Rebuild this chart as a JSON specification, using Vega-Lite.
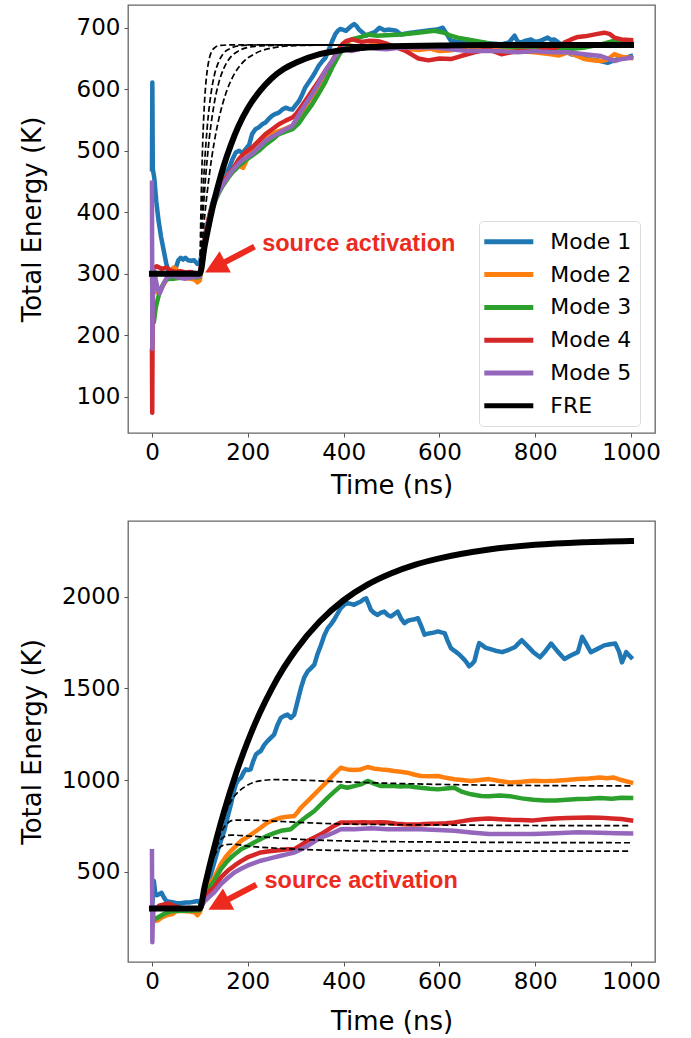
{
"$schema": "https://vega.github.io/schema/vega-lite/v6.json",
"padding": {"left": 18, "top": 4, "right": 5, "bottom": 0},
"spacing": 20,
"config": {
 "font": "DejaVu Sans",
 "view": {"stroke": "#666666", "strokeWidth": 1.3},
 "axis": {"grid": false, "domain": false, "tickSize": 4, "tickColor": "#555555", "tickWidth": 1, "labelFontSize": 23, "labelColor": "#000000", "labelPadding": 4, "labelFlush": false, "labelOverlap": false, "titleFontSize": 26, "titleFontWeight": "normal", "titleColor": "#000000", "labelFont": "DejaVu Sans", "titleFont": "DejaVu Sans", "format": "d"}
},
"datasets": {
"t_modes": [
{"s":"Mode 1","t":0,"v":470},{"s":"Mode 1","t":0.8,"v":611},{"s":"Mode 1","t":1.8,"v":470},{"s":"Mode 1","t":5,"v":455},{"s":"Mode 1","t":9,"v":418},{"s":"Mode 1","t":14,"v":385},{"s":"Mode 1","t":19,"v":360},{"s":"Mode 1","t":24,"v":340},{"s":"Mode 1","t":30,"v":316},{"s":"Mode 1","t":35,"v":303},{"s":"Mode 1","t":40,"v":300},{"s":"Mode 1","t":45,"v":301},{"s":"Mode 1","t":50,"v":310},{"s":"Mode 1","t":55,"v":322},{"s":"Mode 1","t":60,"v":326},{"s":"Mode 1","t":65,"v":323},{"s":"Mode 1","t":70,"v":326},{"s":"Mode 1","t":75,"v":322},{"s":"Mode 1","t":82,"v":321},{"s":"Mode 1","t":88,"v":322},{"s":"Mode 1","t":95,"v":316},{"s":"Mode 1","t":100,"v":318},{"s":"Mode 1","t":106,"v":340},{"s":"Mode 1","t":112,"v":368},{"s":"Mode 1","t":120,"v":395},{"s":"Mode 1","t":126,"v":415},{"s":"Mode 1","t":133,"v":430},{"s":"Mode 1","t":140,"v":442},{"s":"Mode 1","t":147,"v":452},{"s":"Mode 1","t":154,"v":462},{"s":"Mode 1","t":161,"v":472},{"s":"Mode 1","t":168,"v":486},{"s":"Mode 1","t":175,"v":497},{"s":"Mode 1","t":182,"v":500},{"s":"Mode 1","t":189,"v":496},{"s":"Mode 1","t":196,"v":503},{"s":"Mode 1","t":203,"v":510},{"s":"Mode 1","t":209,"v":527},{"s":"Mode 1","t":216,"v":535},{"s":"Mode 1","t":223,"v":538},{"s":"Mode 1","t":230,"v":543},{"s":"Mode 1","t":237,"v":546},{"s":"Mode 1","t":244,"v":552},{"s":"Mode 1","t":251,"v":557},{"s":"Mode 1","t":258,"v":560},{"s":"Mode 1","t":265,"v":562},{"s":"Mode 1","t":272,"v":567},{"s":"Mode 1","t":279,"v":570},{"s":"Mode 1","t":286,"v":568},{"s":"Mode 1","t":293,"v":567},{"s":"Mode 1","t":300,"v":574},{"s":"Mode 1","t":307,"v":581},{"s":"Mode 1","t":314,"v":592},{"s":"Mode 1","t":320,"v":603},{"s":"Mode 1","t":327,"v":611},{"s":"Mode 1","t":334,"v":619},{"s":"Mode 1","t":341,"v":628},{"s":"Mode 1","t":348,"v":638},{"s":"Mode 1","t":355,"v":645},{"s":"Mode 1","t":362,"v":651},{"s":"Mode 1","t":369,"v":664},{"s":"Mode 1","t":376,"v":678},{"s":"Mode 1","t":383,"v":690},{"s":"Mode 1","t":388,"v":695},{"s":"Mode 1","t":393,"v":698},{"s":"Mode 1","t":398,"v":697},{"s":"Mode 1","t":405,"v":695},{"s":"Mode 1","t":412,"v":700},{"s":"Mode 1","t":418,"v":704},{"s":"Mode 1","t":422,"v":706},{"s":"Mode 1","t":427,"v":703},{"s":"Mode 1","t":432,"v":697},{"s":"Mode 1","t":440,"v":692},{"s":"Mode 1","t":447,"v":687},{"s":"Mode 1","t":455,"v":690},{"s":"Mode 1","t":465,"v":693},{"s":"Mode 1","t":475,"v":700},{"s":"Mode 1","t":485,"v":696},{"s":"Mode 1","t":496,"v":697},{"s":"Mode 1","t":510,"v":695},{"s":"Mode 1","t":520,"v":689},{"s":"Mode 1","t":540,"v":692},{"s":"Mode 1","t":560,"v":694},{"s":"Mode 1","t":580,"v":696},{"s":"Mode 1","t":595,"v":697},{"s":"Mode 1","t":607,"v":700},{"s":"Mode 1","t":615,"v":690},{"s":"Mode 1","t":624,"v":679},{"s":"Mode 1","t":640,"v":677},{"s":"Mode 1","t":659,"v":676},{"s":"Mode 1","t":680,"v":676},{"s":"Mode 1","t":700,"v":675},{"s":"Mode 1","t":729,"v":673},{"s":"Mode 1","t":745,"v":676},{"s":"Mode 1","t":757,"v":687},{"s":"Mode 1","t":763,"v":678},{"s":"Mode 1","t":770,"v":676},{"s":"Mode 1","t":780,"v":679},{"s":"Mode 1","t":791,"v":681},{"s":"Mode 1","t":800,"v":677},{"s":"Mode 1","t":812,"v":679},{"s":"Mode 1","t":826,"v":684},{"s":"Mode 1","t":833,"v":680},{"s":"Mode 1","t":840,"v":681},{"s":"Mode 1","t":850,"v":675},{"s":"Mode 1","t":861,"v":663},{"s":"Mode 1","t":875,"v":657},{"s":"Mode 1","t":890,"v":655},{"s":"Mode 1","t":910,"v":649},{"s":"Mode 1","t":930,"v":647},{"s":"Mode 1","t":951,"v":643},{"s":"Mode 1","t":962,"v":646},{"s":"Mode 1","t":972,"v":649},{"s":"Mode 1","t":985,"v":650},{"s":"Mode 1","t":1000,"v":654},
{"s":"Mode 2","t":0,"v":300},{"s":"Mode 2","t":2,"v":285},{"s":"Mode 2","t":5,"v":275},{"s":"Mode 2","t":10,"v":270},{"s":"Mode 2","t":15,"v":272},{"s":"Mode 2","t":20,"v":278},{"s":"Mode 2","t":25,"v":283},{"s":"Mode 2","t":30,"v":290},{"s":"Mode 2","t":35,"v":300},{"s":"Mode 2","t":40,"v":305},{"s":"Mode 2","t":45,"v":310},{"s":"Mode 2","t":50,"v":308},{"s":"Mode 2","t":55,"v":302},{"s":"Mode 2","t":60,"v":296},{"s":"Mode 2","t":70,"v":293},{"s":"Mode 2","t":80,"v":292},{"s":"Mode 2","t":90,"v":290},{"s":"Mode 2","t":95,"v":286},{"s":"Mode 2","t":100,"v":289},{"s":"Mode 2","t":106,"v":330},{"s":"Mode 2","t":112,"v":365},{"s":"Mode 2","t":120,"v":395},{"s":"Mode 2","t":126,"v":410},{"s":"Mode 2","t":133,"v":425},{"s":"Mode 2","t":140,"v":437},{"s":"Mode 2","t":147,"v":448},{"s":"Mode 2","t":154,"v":456},{"s":"Mode 2","t":161,"v":463},{"s":"Mode 2","t":168,"v":468},{"s":"Mode 2","t":175,"v":472},{"s":"Mode 2","t":182,"v":476},{"s":"Mode 2","t":190,"v":472},{"s":"Mode 2","t":196,"v":482},{"s":"Mode 2","t":203,"v":495},{"s":"Mode 2","t":209,"v":503},{"s":"Mode 2","t":216,"v":510},{"s":"Mode 2","t":223,"v":514},{"s":"Mode 2","t":230,"v":518},{"s":"Mode 2","t":237,"v":521},{"s":"Mode 2","t":244,"v":524},{"s":"Mode 2","t":251,"v":527},{"s":"Mode 2","t":258,"v":530},{"s":"Mode 2","t":265,"v":532},{"s":"Mode 2","t":279,"v":536},{"s":"Mode 2","t":293,"v":541},{"s":"Mode 2","t":300,"v":548},{"s":"Mode 2","t":307,"v":554},{"s":"Mode 2","t":320,"v":570},{"s":"Mode 2","t":334,"v":586},{"s":"Mode 2","t":348,"v":603},{"s":"Mode 2","t":362,"v":619},{"s":"Mode 2","t":376,"v":640},{"s":"Mode 2","t":390,"v":657},{"s":"Mode 2","t":400,"v":668},{"s":"Mode 2","t":410,"v":672},{"s":"Mode 2","t":420,"v":670},{"s":"Mode 2","t":440,"v":668},{"s":"Mode 2","t":460,"v":672},{"s":"Mode 2","t":480,"v":674},{"s":"Mode 2","t":500,"v":670},{"s":"Mode 2","t":520,"v":668},{"s":"Mode 2","t":540,"v":665},{"s":"Mode 2","t":560,"v":664},{"s":"Mode 2","t":580,"v":666},{"s":"Mode 2","t":600,"v":662},{"s":"Mode 2","t":620,"v":663},{"s":"Mode 2","t":640,"v":665},{"s":"Mode 2","t":659,"v":670},{"s":"Mode 2","t":680,"v":668},{"s":"Mode 2","t":700,"v":666},{"s":"Mode 2","t":729,"v":665},{"s":"Mode 2","t":760,"v":662},{"s":"Mode 2","t":798,"v":660},{"s":"Mode 2","t":833,"v":657},{"s":"Mode 2","t":850,"v":655},{"s":"Mode 2","t":868,"v":660},{"s":"Mode 2","t":885,"v":655},{"s":"Mode 2","t":903,"v":649},{"s":"Mode 2","t":920,"v":647},{"s":"Mode 2","t":937,"v":646},{"s":"Mode 2","t":950,"v":648},{"s":"Mode 2","t":965,"v":657},{"s":"Mode 2","t":980,"v":653},{"s":"Mode 2","t":1000,"v":651},
{"s":"Mode 3","t":0,"v":300},{"s":"Mode 3","t":2,"v":250},{"s":"Mode 3","t":4,"v":221},{"s":"Mode 3","t":8,"v":245},{"s":"Mode 3","t":12,"v":258},{"s":"Mode 3","t":15,"v":267},{"s":"Mode 3","t":20,"v":278},{"s":"Mode 3","t":25,"v":285},{"s":"Mode 3","t":30,"v":290},{"s":"Mode 3","t":36,"v":292},{"s":"Mode 3","t":45,"v":292},{"s":"Mode 3","t":55,"v":293},{"s":"Mode 3","t":65,"v":294},{"s":"Mode 3","t":75,"v":294},{"s":"Mode 3","t":85,"v":295},{"s":"Mode 3","t":95,"v":294},{"s":"Mode 3","t":100,"v":295},{"s":"Mode 3","t":106,"v":325},{"s":"Mode 3","t":112,"v":360},{"s":"Mode 3","t":120,"v":388},{"s":"Mode 3","t":126,"v":405},{"s":"Mode 3","t":133,"v":420},{"s":"Mode 3","t":140,"v":432},{"s":"Mode 3","t":147,"v":442},{"s":"Mode 3","t":154,"v":450},{"s":"Mode 3","t":161,"v":458},{"s":"Mode 3","t":168,"v":465},{"s":"Mode 3","t":175,"v":470},{"s":"Mode 3","t":182,"v":476},{"s":"Mode 3","t":189,"v":480},{"s":"Mode 3","t":196,"v":485},{"s":"Mode 3","t":209,"v":492},{"s":"Mode 3","t":223,"v":500},{"s":"Mode 3","t":237,"v":510},{"s":"Mode 3","t":251,"v":518},{"s":"Mode 3","t":265,"v":527},{"s":"Mode 3","t":279,"v":531},{"s":"Mode 3","t":293,"v":535},{"s":"Mode 3","t":307,"v":545},{"s":"Mode 3","t":320,"v":560},{"s":"Mode 3","t":334,"v":575},{"s":"Mode 3","t":348,"v":593},{"s":"Mode 3","t":362,"v":612},{"s":"Mode 3","t":376,"v":635},{"s":"Mode 3","t":390,"v":655},{"s":"Mode 3","t":400,"v":668},{"s":"Mode 3","t":408,"v":678},{"s":"Mode 3","t":420,"v":682},{"s":"Mode 3","t":437,"v":685},{"s":"Mode 3","t":451,"v":689},{"s":"Mode 3","t":470,"v":687},{"s":"Mode 3","t":490,"v":688},{"s":"Mode 3","t":520,"v":689},{"s":"Mode 3","t":555,"v":692},{"s":"Mode 3","t":590,"v":695},{"s":"Mode 3","t":610,"v":692},{"s":"Mode 3","t":624,"v":687},{"s":"Mode 3","t":638,"v":684},{"s":"Mode 3","t":659,"v":681},{"s":"Mode 3","t":694,"v":676},{"s":"Mode 3","t":729,"v":670},{"s":"Mode 3","t":763,"v":668},{"s":"Mode 3","t":798,"v":665},{"s":"Mode 3","t":833,"v":662},{"s":"Mode 3","t":868,"v":665},{"s":"Mode 3","t":903,"v":668},{"s":"Mode 3","t":937,"v":673},{"s":"Mode 3","t":965,"v":679},{"s":"Mode 3","t":1000,"v":676},
{"s":"Mode 4","t":0,"v":175},{"s":"Mode 4","t":0.6,"v":74},{"s":"Mode 4","t":1.5,"v":240},{"s":"Mode 4","t":3,"v":310},{"s":"Mode 4","t":5,"v":310},{"s":"Mode 4","t":10,"v":312},{"s":"Mode 4","t":15,"v":310},{"s":"Mode 4","t":20,"v":308},{"s":"Mode 4","t":30,"v":310},{"s":"Mode 4","t":40,"v":305},{"s":"Mode 4","t":50,"v":303},{"s":"Mode 4","t":60,"v":304},{"s":"Mode 4","t":70,"v":302},{"s":"Mode 4","t":80,"v":303},{"s":"Mode 4","t":90,"v":301},{"s":"Mode 4","t":100,"v":300},{"s":"Mode 4","t":106,"v":335},{"s":"Mode 4","t":112,"v":365},{"s":"Mode 4","t":120,"v":393},{"s":"Mode 4","t":126,"v":412},{"s":"Mode 4","t":133,"v":425},{"s":"Mode 4","t":140,"v":436},{"s":"Mode 4","t":147,"v":446},{"s":"Mode 4","t":154,"v":455},{"s":"Mode 4","t":161,"v":462},{"s":"Mode 4","t":168,"v":470},{"s":"Mode 4","t":175,"v":478},{"s":"Mode 4","t":182,"v":487},{"s":"Mode 4","t":189,"v":493},{"s":"Mode 4","t":196,"v":498},{"s":"Mode 4","t":203,"v":502},{"s":"Mode 4","t":209,"v":505},{"s":"Mode 4","t":223,"v":516},{"s":"Mode 4","t":237,"v":527},{"s":"Mode 4","t":251,"v":535},{"s":"Mode 4","t":265,"v":543},{"s":"Mode 4","t":279,"v":549},{"s":"Mode 4","t":293,"v":554},{"s":"Mode 4","t":300,"v":559},{"s":"Mode 4","t":310,"v":570},{"s":"Mode 4","t":320,"v":581},{"s":"Mode 4","t":334,"v":597},{"s":"Mode 4","t":348,"v":613},{"s":"Mode 4","t":362,"v":630},{"s":"Mode 4","t":376,"v":646},{"s":"Mode 4","t":390,"v":665},{"s":"Mode 4","t":397,"v":673},{"s":"Mode 4","t":405,"v":678},{"s":"Mode 4","t":418,"v":681},{"s":"Mode 4","t":437,"v":677},{"s":"Mode 4","t":455,"v":679},{"s":"Mode 4","t":472,"v":678},{"s":"Mode 4","t":490,"v":674},{"s":"Mode 4","t":510,"v":668},{"s":"Mode 4","t":528,"v":663},{"s":"Mode 4","t":545,"v":655},{"s":"Mode 4","t":556,"v":650},{"s":"Mode 4","t":577,"v":647},{"s":"Mode 4","t":600,"v":650},{"s":"Mode 4","t":624,"v":649},{"s":"Mode 4","t":645,"v":654},{"s":"Mode 4","t":660,"v":657},{"s":"Mode 4","t":673,"v":660},{"s":"Mode 4","t":701,"v":665},{"s":"Mode 4","t":715,"v":661},{"s":"Mode 4","t":729,"v":657},{"s":"Mode 4","t":763,"v":662},{"s":"Mode 4","t":798,"v":662},{"s":"Mode 4","t":833,"v":665},{"s":"Mode 4","t":850,"v":670},{"s":"Mode 4","t":861,"v":676},{"s":"Mode 4","t":875,"v":681},{"s":"Mode 4","t":889,"v":685},{"s":"Mode 4","t":903,"v":686},{"s":"Mode 4","t":917,"v":688},{"s":"Mode 4","t":930,"v":690},{"s":"Mode 4","t":944,"v":692},{"s":"Mode 4","t":955,"v":690},{"s":"Mode 4","t":965,"v":684},{"s":"Mode 4","t":980,"v":681},{"s":"Mode 4","t":1000,"v":680},
{"s":"Mode 5","t":0,"v":448},{"s":"Mode 5","t":0.8,"v":178},{"s":"Mode 5","t":2,"v":300},{"s":"Mode 5","t":5,"v":305},{"s":"Mode 5","t":8,"v":290},{"s":"Mode 5","t":12,"v":275},{"s":"Mode 5","t":16,"v":268},{"s":"Mode 5","t":20,"v":275},{"s":"Mode 5","t":25,"v":285},{"s":"Mode 5","t":30,"v":292},{"s":"Mode 5","t":35,"v":296},{"s":"Mode 5","t":40,"v":297},{"s":"Mode 5","t":50,"v":295},{"s":"Mode 5","t":60,"v":293},{"s":"Mode 5","t":70,"v":292},{"s":"Mode 5","t":80,"v":294},{"s":"Mode 5","t":90,"v":295},{"s":"Mode 5","t":100,"v":296},{"s":"Mode 5","t":106,"v":330},{"s":"Mode 5","t":112,"v":362},{"s":"Mode 5","t":120,"v":392},{"s":"Mode 5","t":126,"v":408},{"s":"Mode 5","t":133,"v":422},{"s":"Mode 5","t":140,"v":434},{"s":"Mode 5","t":147,"v":444},{"s":"Mode 5","t":154,"v":452},{"s":"Mode 5","t":161,"v":460},{"s":"Mode 5","t":168,"v":468},{"s":"Mode 5","t":175,"v":474},{"s":"Mode 5","t":182,"v":480},{"s":"Mode 5","t":189,"v":485},{"s":"Mode 5","t":196,"v":488},{"s":"Mode 5","t":209,"v":495},{"s":"Mode 5","t":223,"v":505},{"s":"Mode 5","t":237,"v":516},{"s":"Mode 5","t":251,"v":523},{"s":"Mode 5","t":265,"v":529},{"s":"Mode 5","t":279,"v":535},{"s":"Mode 5","t":293,"v":540},{"s":"Mode 5","t":307,"v":559},{"s":"Mode 5","t":320,"v":575},{"s":"Mode 5","t":334,"v":591},{"s":"Mode 5","t":348,"v":610},{"s":"Mode 5","t":362,"v":630},{"s":"Mode 5","t":376,"v":646},{"s":"Mode 5","t":390,"v":662},{"s":"Mode 5","t":400,"v":667},{"s":"Mode 5","t":416,"v":662},{"s":"Mode 5","t":430,"v":665},{"s":"Mode 5","t":450,"v":668},{"s":"Mode 5","t":470,"v":666},{"s":"Mode 5","t":490,"v":665},{"s":"Mode 5","t":520,"v":668},{"s":"Mode 5","t":555,"v":668},{"s":"Mode 5","t":590,"v":668},{"s":"Mode 5","t":624,"v":665},{"s":"Mode 5","t":659,"v":662},{"s":"Mode 5","t":694,"v":662},{"s":"Mode 5","t":729,"v":662},{"s":"Mode 5","t":763,"v":660},{"s":"Mode 5","t":798,"v":662},{"s":"Mode 5","t":833,"v":660},{"s":"Mode 5","t":868,"v":660},{"s":"Mode 5","t":903,"v":657},{"s":"Mode 5","t":937,"v":654},{"s":"Mode 5","t":965,"v":646},{"s":"Mode 5","t":980,"v":649},{"s":"Mode 5","t":1000,"v":651}
],
"t_fre": [
{"s":"FRE","t":0,"v":300},{"s":"FRE","t":100,"v":300},{"s":"FRE","t":110,"v":345},{"s":"FRE","t":120,"v":384},{"s":"FRE","t":130,"v":419},{"s":"FRE","t":140,"v":449},{"s":"FRE","t":150,"v":476},{"s":"FRE","t":165,"v":510},{"s":"FRE","t":180,"v":539},{"s":"FRE","t":200,"v":569},{"s":"FRE","t":225,"v":597},{"s":"FRE","t":250,"v":618},{"s":"FRE","t":275,"v":633},{"s":"FRE","t":300,"v":643},{"s":"FRE","t":350,"v":657},{"s":"FRE","t":400,"v":664},{"s":"FRE","t":450,"v":668},{"s":"FRE","t":500,"v":670},{"s":"FRE","t":600,"v":671},{"s":"FRE","t":700,"v":672},{"s":"FRE","t":1000,"v":672}
],
"t_dash": [
{"s":"d1","t":100,"v":300},{"s":"d1","t":102,"v":393},{"s":"d1","t":104,"v":462},{"s":"d1","t":106,"v":514},{"s":"d1","t":108,"v":553},{"s":"d1","t":110,"v":583},{"s":"d1","t":113,"v":614},{"s":"d1","t":116,"v":634},{"s":"d1","t":120,"v":651},{"s":"d1","t":125,"v":662},{"s":"d1","t":130,"v":667},{"s":"d1","t":140,"v":671},{"s":"d1","t":160,"v":672},{"s":"d1","t":1000,"v":672},
{"s":"d2","t":100,"v":300},{"s":"d2","t":103,"v":368},{"s":"d2","t":106,"v":423},{"s":"d2","t":110,"v":481},{"s":"d2","t":115,"v":535},{"s":"d2","t":120,"v":574},{"s":"d2","t":125,"v":602},{"s":"d2","t":130,"v":622},{"s":"d2","t":140,"v":646},{"s":"d2","t":150,"v":659},{"s":"d2","t":165,"v":667},{"s":"d2","t":185,"v":671},{"s":"d2","t":220,"v":672},{"s":"d2","t":1000,"v":672},
{"s":"d3","t":100,"v":300},{"s":"d3","t":105,"v":376},{"s":"d3","t":110,"v":436},{"s":"d3","t":115,"v":484},{"s":"d3","t":120,"v":522},{"s":"d3","t":130,"v":577},{"s":"d3","t":140,"v":612},{"s":"d3","t":150,"v":634},{"s":"d3","t":165,"v":653},{"s":"d3","t":180,"v":662},{"s":"d3","t":200,"v":668},{"s":"d3","t":240,"v":671},{"s":"d3","t":300,"v":672},{"s":"d3","t":1000,"v":672},
{"s":"d4","t":100,"v":300},{"s":"d4","t":105,"v":350},{"s":"d4","t":110,"v":393},{"s":"d4","t":120,"v":462},{"s":"d4","t":130,"v":514},{"s":"d4","t":140,"v":553},{"s":"d4","t":155,"v":595},{"s":"d4","t":170,"v":622},{"s":"d4","t":190,"v":644},{"s":"d4","t":215,"v":658},{"s":"d4","t":250,"v":667},{"s":"d4","t":300,"v":671},{"s":"d4","t":400,"v":672},{"s":"d4","t":1000,"v":672}
],
"b_modes": [
{"s":"Mode 1","t":0,"v":300},{"s":"Mode 1","t":2,"v":360},{"s":"Mode 1","t":4,"v":450},{"s":"Mode 1","t":7,"v":380},{"s":"Mode 1","t":10,"v":372},{"s":"Mode 1","t":15,"v":378},{"s":"Mode 1","t":20,"v":385},{"s":"Mode 1","t":25,"v":360},{"s":"Mode 1","t":30,"v":340},{"s":"Mode 1","t":40,"v":335},{"s":"Mode 1","t":50,"v":330},{"s":"Mode 1","t":60,"v":328},{"s":"Mode 1","t":70,"v":332},{"s":"Mode 1","t":80,"v":333},{"s":"Mode 1","t":90,"v":338},{"s":"Mode 1","t":96,"v":340},{"s":"Mode 1","t":100,"v":330},{"s":"Mode 1","t":109,"v":360},{"s":"Mode 1","t":116,"v":420},{"s":"Mode 1","t":123,"v":487},{"s":"Mode 1","t":130,"v":550},{"s":"Mode 1","t":137,"v":614},{"s":"Mode 1","t":144,"v":670},{"s":"Mode 1","t":151,"v":723},{"s":"Mode 1","t":158,"v":800},{"s":"Mode 1","t":165,"v":868},{"s":"Mode 1","t":170,"v":930},{"s":"Mode 1","t":175,"v":976},{"s":"Mode 1","t":180,"v":1000},{"s":"Mode 1","t":186,"v":1013},{"s":"Mode 1","t":191,"v":1040},{"s":"Mode 1","t":196,"v":1058},{"s":"Mode 1","t":201,"v":1055},{"s":"Mode 1","t":206,"v":1058},{"s":"Mode 1","t":211,"v":1100},{"s":"Mode 1","t":217,"v":1139},{"s":"Mode 1","t":222,"v":1150},{"s":"Mode 1","t":227,"v":1158},{"s":"Mode 1","t":234,"v":1190},{"s":"Mode 1","t":241,"v":1212},{"s":"Mode 1","t":248,"v":1230},{"s":"Mode 1","t":255,"v":1248},{"s":"Mode 1","t":262,"v":1300},{"s":"Mode 1","t":269,"v":1339},{"s":"Mode 1","t":276,"v":1350},{"s":"Mode 1","t":283,"v":1357},{"s":"Mode 1","t":290,"v":1339},{"s":"Mode 1","t":297,"v":1357},{"s":"Mode 1","t":304,"v":1430},{"s":"Mode 1","t":311,"v":1502},{"s":"Mode 1","t":318,"v":1560},{"s":"Mode 1","t":325,"v":1592},{"s":"Mode 1","t":332,"v":1610},{"s":"Mode 1","t":339,"v":1629},{"s":"Mode 1","t":346,"v":1690},{"s":"Mode 1","t":353,"v":1737},{"s":"Mode 1","t":360,"v":1790},{"s":"Mode 1","t":367,"v":1828},{"s":"Mode 1","t":374,"v":1850},{"s":"Mode 1","t":380,"v":1873},{"s":"Mode 1","t":387,"v":1905},{"s":"Mode 1","t":394,"v":1937},{"s":"Mode 1","t":401,"v":1955},{"s":"Mode 1","t":408,"v":1964},{"s":"Mode 1","t":415,"v":1960},{"s":"Mode 1","t":422,"v":1955},{"s":"Mode 1","t":429,"v":1965},{"s":"Mode 1","t":436,"v":1973},{"s":"Mode 1","t":442,"v":1985},{"s":"Mode 1","t":447,"v":1991},{"s":"Mode 1","t":452,"v":1960},{"s":"Mode 1","t":457,"v":1928},{"s":"Mode 1","t":464,"v":1910},{"s":"Mode 1","t":471,"v":1900},{"s":"Mode 1","t":478,"v":1912},{"s":"Mode 1","t":485,"v":1918},{"s":"Mode 1","t":492,"v":1900},{"s":"Mode 1","t":499,"v":1891},{"s":"Mode 1","t":506,"v":1905},{"s":"Mode 1","t":513,"v":1918},{"s":"Mode 1","t":520,"v":1880},{"s":"Mode 1","t":527,"v":1855},{"s":"Mode 1","t":534,"v":1868},{"s":"Mode 1","t":541,"v":1873},{"s":"Mode 1","t":548,"v":1876},{"s":"Mode 1","t":555,"v":1882},{"s":"Mode 1","t":562,"v":1840},{"s":"Mode 1","t":569,"v":1792},{"s":"Mode 1","t":576,"v":1798},{"s":"Mode 1","t":583,"v":1801},{"s":"Mode 1","t":590,"v":1805},{"s":"Mode 1","t":597,"v":1810},{"s":"Mode 1","t":604,"v":1805},{"s":"Mode 1","t":611,"v":1801},{"s":"Mode 1","t":617,"v":1760},{"s":"Mode 1","t":624,"v":1719},{"s":"Mode 1","t":631,"v":1705},{"s":"Mode 1","t":638,"v":1692},{"s":"Mode 1","t":645,"v":1675},{"s":"Mode 1","t":652,"v":1656},{"s":"Mode 1","t":657,"v":1640},{"s":"Mode 1","t":662,"v":1620},{"s":"Mode 1","t":667,"v":1630},{"s":"Mode 1","t":673,"v":1647},{"s":"Mode 1","t":678,"v":1700},{"s":"Mode 1","t":683,"v":1746},{"s":"Mode 1","t":690,"v":1734},{"s":"Mode 1","t":697,"v":1720},{"s":"Mode 1","t":703,"v":1716},{"s":"Mode 1","t":717,"v":1705},{"s":"Mode 1","t":731,"v":1697},{"s":"Mode 1","t":745,"v":1710},{"s":"Mode 1","t":758,"v":1725},{"s":"Mode 1","t":765,"v":1745},{"s":"Mode 1","t":772,"v":1762},{"s":"Mode 1","t":784,"v":1730},{"s":"Mode 1","t":796,"v":1697},{"s":"Mode 1","t":803,"v":1683},{"s":"Mode 1","t":810,"v":1669},{"s":"Mode 1","t":822,"v":1705},{"s":"Mode 1","t":833,"v":1744},{"s":"Mode 1","t":847,"v":1700},{"s":"Mode 1","t":861,"v":1660},{"s":"Mode 1","t":875,"v":1680},{"s":"Mode 1","t":889,"v":1697},{"s":"Mode 1","t":898,"v":1781},{"s":"Mode 1","t":907,"v":1740},{"s":"Mode 1","t":916,"v":1697},{"s":"Mode 1","t":930,"v":1715},{"s":"Mode 1","t":944,"v":1734},{"s":"Mode 1","t":956,"v":1740},{"s":"Mode 1","t":967,"v":1744},{"s":"Mode 1","t":975,"v":1700},{"s":"Mode 1","t":981,"v":1641},{"s":"Mode 1","t":990,"v":1697},{"s":"Mode 1","t":1000,"v":1669},
{"s":"Mode 2","t":0,"v":300},{"s":"Mode 2","t":3,"v":240},{"s":"Mode 2","t":6,"v":231},{"s":"Mode 2","t":12,"v":235},{"s":"Mode 2","t":20,"v":250},{"s":"Mode 2","t":30,"v":262},{"s":"Mode 2","t":43,"v":270},{"s":"Mode 2","t":50,"v":285},{"s":"Mode 2","t":60,"v":287},{"s":"Mode 2","t":70,"v":284},{"s":"Mode 2","t":80,"v":283},{"s":"Mode 2","t":90,"v":278},{"s":"Mode 2","t":95,"v":263},{"s":"Mode 2","t":100,"v":280},{"s":"Mode 2","t":110,"v":370},{"s":"Mode 2","t":120,"v":430},{"s":"Mode 2","t":130,"v":469},{"s":"Mode 2","t":144,"v":542},{"s":"Mode 2","t":155,"v":585},{"s":"Mode 2","t":165,"v":614},{"s":"Mode 2","t":175,"v":640},{"s":"Mode 2","t":186,"v":669},{"s":"Mode 2","t":200,"v":690},{"s":"Mode 2","t":213,"v":714},{"s":"Mode 2","t":227,"v":740},{"s":"Mode 2","t":241,"v":768},{"s":"Mode 2","t":255,"v":782},{"s":"Mode 2","t":269,"v":795},{"s":"Mode 2","t":283,"v":800},{"s":"Mode 2","t":297,"v":804},{"s":"Mode 2","t":304,"v":825},{"s":"Mode 2","t":311,"v":850},{"s":"Mode 2","t":325,"v":885},{"s":"Mode 2","t":339,"v":922},{"s":"Mode 2","t":353,"v":958},{"s":"Mode 2","t":367,"v":995},{"s":"Mode 2","t":380,"v":1031},{"s":"Mode 2","t":394,"v":1067},{"s":"Mode 2","t":401,"v":1062},{"s":"Mode 2","t":408,"v":1058},{"s":"Mode 2","t":422,"v":1055},{"s":"Mode 2","t":436,"v":1058},{"s":"Mode 2","t":450,"v":1071},{"s":"Mode 2","t":464,"v":1062},{"s":"Mode 2","t":478,"v":1058},{"s":"Mode 2","t":492,"v":1055},{"s":"Mode 2","t":505,"v":1049},{"s":"Mode 2","t":519,"v":1045},{"s":"Mode 2","t":533,"v":1040},{"s":"Mode 2","t":547,"v":1030},{"s":"Mode 2","t":561,"v":1022},{"s":"Mode 2","t":580,"v":1020},{"s":"Mode 2","t":597,"v":1022},{"s":"Mode 2","t":614,"v":1012},{"s":"Mode 2","t":631,"v":1004},{"s":"Mode 2","t":648,"v":1000},{"s":"Mode 2","t":666,"v":995},{"s":"Mode 2","t":685,"v":1000},{"s":"Mode 2","t":703,"v":1005},{"s":"Mode 2","t":726,"v":995},{"s":"Mode 2","t":749,"v":986},{"s":"Mode 2","t":772,"v":990},{"s":"Mode 2","t":796,"v":996},{"s":"Mode 2","t":820,"v":994},{"s":"Mode 2","t":842,"v":996},{"s":"Mode 2","t":866,"v":1000},{"s":"Mode 2","t":889,"v":1005},{"s":"Mode 2","t":912,"v":1008},{"s":"Mode 2","t":935,"v":1014},{"s":"Mode 2","t":950,"v":1010},{"s":"Mode 2","t":963,"v":1014},{"s":"Mode 2","t":980,"v":1000},{"s":"Mode 2","t":1000,"v":986},
{"s":"Mode 3","t":0,"v":300},{"s":"Mode 3","t":3,"v":250},{"s":"Mode 3","t":6,"v":240},{"s":"Mode 3","t":15,"v":255},{"s":"Mode 3","t":25,"v":270},{"s":"Mode 3","t":40,"v":285},{"s":"Mode 3","t":60,"v":287},{"s":"Mode 3","t":80,"v":288},{"s":"Mode 3","t":100,"v":290},{"s":"Mode 3","t":110,"v":365},{"s":"Mode 3","t":120,"v":415},{"s":"Mode 3","t":130,"v":451},{"s":"Mode 3","t":144,"v":514},{"s":"Mode 3","t":155,"v":550},{"s":"Mode 3","t":165,"v":578},{"s":"Mode 3","t":175,"v":600},{"s":"Mode 3","t":186,"v":623},{"s":"Mode 3","t":200,"v":640},{"s":"Mode 3","t":213,"v":659},{"s":"Mode 3","t":227,"v":678},{"s":"Mode 3","t":241,"v":696},{"s":"Mode 3","t":255,"v":710},{"s":"Mode 3","t":269,"v":723},{"s":"Mode 3","t":280,"v":728},{"s":"Mode 3","t":290,"v":732},{"s":"Mode 3","t":300,"v":755},{"s":"Mode 3","t":311,"v":777},{"s":"Mode 3","t":325,"v":805},{"s":"Mode 3","t":339,"v":831},{"s":"Mode 3","t":353,"v":868},{"s":"Mode 3","t":367,"v":904},{"s":"Mode 3","t":380,"v":935},{"s":"Mode 3","t":394,"v":967},{"s":"Mode 3","t":401,"v":962},{"s":"Mode 3","t":408,"v":958},{"s":"Mode 3","t":422,"v":967},{"s":"Mode 3","t":436,"v":976},{"s":"Mode 3","t":450,"v":995},{"s":"Mode 3","t":464,"v":980},{"s":"Mode 3","t":478,"v":967},{"s":"Mode 3","t":492,"v":967},{"s":"Mode 3","t":505,"v":967},{"s":"Mode 3","t":519,"v":965},{"s":"Mode 3","t":533,"v":967},{"s":"Mode 3","t":547,"v":962},{"s":"Mode 3","t":561,"v":958},{"s":"Mode 3","t":580,"v":952},{"s":"Mode 3","t":597,"v":949},{"s":"Mode 3","t":614,"v":954},{"s":"Mode 3","t":631,"v":958},{"s":"Mode 3","t":648,"v":935},{"s":"Mode 3","t":666,"v":922},{"s":"Mode 3","t":687,"v":913},{"s":"Mode 3","t":703,"v":911},{"s":"Mode 3","t":726,"v":915},{"s":"Mode 3","t":749,"v":911},{"s":"Mode 3","t":772,"v":900},{"s":"Mode 3","t":796,"v":893},{"s":"Mode 3","t":820,"v":888},{"s":"Mode 3","t":842,"v":889},{"s":"Mode 3","t":866,"v":893},{"s":"Mode 3","t":889,"v":896},{"s":"Mode 3","t":912,"v":898},{"s":"Mode 3","t":935,"v":902},{"s":"Mode 3","t":960,"v":898},{"s":"Mode 3","t":980,"v":903},{"s":"Mode 3","t":1000,"v":902},
{"s":"Mode 4","t":0,"v":300},{"s":"Mode 4","t":3,"v":290},{"s":"Mode 4","t":8,"v":300},{"s":"Mode 4","t":15,"v":315},{"s":"Mode 4","t":25,"v":322},{"s":"Mode 4","t":35,"v":327},{"s":"Mode 4","t":45,"v":315},{"s":"Mode 4","t":60,"v":303},{"s":"Mode 4","t":80,"v":300},{"s":"Mode 4","t":100,"v":298},{"s":"Mode 4","t":110,"v":360},{"s":"Mode 4","t":120,"v":395},{"s":"Mode 4","t":130,"v":415},{"s":"Mode 4","t":144,"v":469},{"s":"Mode 4","t":158,"v":505},{"s":"Mode 4","t":172,"v":533},{"s":"Mode 4","t":186,"v":558},{"s":"Mode 4","t":199,"v":578},{"s":"Mode 4","t":213,"v":592},{"s":"Mode 4","t":227,"v":605},{"s":"Mode 4","t":241,"v":610},{"s":"Mode 4","t":255,"v":614},{"s":"Mode 4","t":269,"v":619},{"s":"Mode 4","t":283,"v":623},{"s":"Mode 4","t":297,"v":623},{"s":"Mode 4","t":311,"v":645},{"s":"Mode 4","t":325,"v":669},{"s":"Mode 4","t":339,"v":687},{"s":"Mode 4","t":353,"v":705},{"s":"Mode 4","t":367,"v":728},{"s":"Mode 4","t":380,"v":750},{"s":"Mode 4","t":394,"v":768},{"s":"Mode 4","t":408,"v":768},{"s":"Mode 4","t":422,"v":768},{"s":"Mode 4","t":440,"v":770},{"s":"Mode 4","t":457,"v":768},{"s":"Mode 4","t":475,"v":770},{"s":"Mode 4","t":492,"v":768},{"s":"Mode 4","t":510,"v":762},{"s":"Mode 4","t":527,"v":759},{"s":"Mode 4","t":545,"v":758},{"s":"Mode 4","t":561,"v":759},{"s":"Mode 4","t":580,"v":762},{"s":"Mode 4","t":597,"v":763},{"s":"Mode 4","t":614,"v":765},{"s":"Mode 4","t":631,"v":768},{"s":"Mode 4","t":648,"v":776},{"s":"Mode 4","t":666,"v":783},{"s":"Mode 4","t":685,"v":788},{"s":"Mode 4","t":703,"v":790},{"s":"Mode 4","t":726,"v":786},{"s":"Mode 4","t":749,"v":783},{"s":"Mode 4","t":772,"v":782},{"s":"Mode 4","t":796,"v":780},{"s":"Mode 4","t":820,"v":786},{"s":"Mode 4","t":842,"v":790},{"s":"Mode 4","t":866,"v":793},{"s":"Mode 4","t":889,"v":795},{"s":"Mode 4","t":912,"v":796},{"s":"Mode 4","t":935,"v":795},{"s":"Mode 4","t":960,"v":790},{"s":"Mode 4","t":980,"v":787},{"s":"Mode 4","t":1000,"v":780},
{"s":"Mode 5","t":0,"v":612},{"s":"Mode 5","t":0.8,"v":116},{"s":"Mode 5","t":2,"v":260},{"s":"Mode 5","t":4,"v":300},{"s":"Mode 5","t":10,"v":305},{"s":"Mode 5","t":20,"v":300},{"s":"Mode 5","t":40,"v":298},{"s":"Mode 5","t":60,"v":297},{"s":"Mode 5","t":80,"v":298},{"s":"Mode 5","t":100,"v":297},{"s":"Mode 5","t":110,"v":340},{"s":"Mode 5","t":120,"v":365},{"s":"Mode 5","t":130,"v":388},{"s":"Mode 5","t":144,"v":433},{"s":"Mode 5","t":158,"v":466},{"s":"Mode 5","t":172,"v":496},{"s":"Mode 5","t":186,"v":516},{"s":"Mode 5","t":199,"v":533},{"s":"Mode 5","t":213,"v":547},{"s":"Mode 5","t":227,"v":560},{"s":"Mode 5","t":241,"v":569},{"s":"Mode 5","t":255,"v":578},{"s":"Mode 5","t":269,"v":587},{"s":"Mode 5","t":283,"v":596},{"s":"Mode 5","t":297,"v":605},{"s":"Mode 5","t":311,"v":622},{"s":"Mode 5","t":325,"v":641},{"s":"Mode 5","t":339,"v":664},{"s":"Mode 5","t":353,"v":687},{"s":"Mode 5","t":367,"v":700},{"s":"Mode 5","t":380,"v":714},{"s":"Mode 5","t":394,"v":732},{"s":"Mode 5","t":408,"v":733},{"s":"Mode 5","t":422,"v":732},{"s":"Mode 5","t":440,"v":735},{"s":"Mode 5","t":457,"v":737},{"s":"Mode 5","t":475,"v":735},{"s":"Mode 5","t":492,"v":732},{"s":"Mode 5","t":527,"v":732},{"s":"Mode 5","t":561,"v":732},{"s":"Mode 5","t":597,"v":728},{"s":"Mode 5","t":631,"v":723},{"s":"Mode 5","t":666,"v":714},{"s":"Mode 5","t":703,"v":706},{"s":"Mode 5","t":750,"v":706},{"s":"Mode 5","t":796,"v":706},{"s":"Mode 5","t":842,"v":710},{"s":"Mode 5","t":889,"v":715},{"s":"Mode 5","t":935,"v":712},{"s":"Mode 5","t":970,"v":710},{"s":"Mode 5","t":1000,"v":709}
],
"b_fre": [
{"s":"FRE","t":0,"v":300},{"s":"FRE","t":100,"v":300},{"s":"FRE","t":110,"v":418},{"s":"FRE","t":120,"v":529},{"s":"FRE","t":135,"v":683},{"s":"FRE","t":150,"v":824},{"s":"FRE","t":175,"v":1032},{"s":"FRE","t":200,"v":1211},{"s":"FRE","t":225,"v":1365},{"s":"FRE","t":250,"v":1497},{"s":"FRE","t":275,"v":1611},{"s":"FRE","t":300,"v":1708},{"s":"FRE","t":350,"v":1864},{"s":"FRE","t":400,"v":1980},{"s":"FRE","t":450,"v":2065},{"s":"FRE","t":500,"v":2127},{"s":"FRE","t":550,"v":2174},{"s":"FRE","t":600,"v":2208},{"s":"FRE","t":700,"v":2255},{"s":"FRE","t":800,"v":2282},{"s":"FRE","t":900,"v":2296},{"s":"FRE","t":1000,"v":2303}
],
"b_dash": [
{"s":"d1","t":100,"v":300},{"s":"d1","t":110,"v":420},{"s":"d1","t":120,"v":530},{"s":"d1","t":130,"v":630},{"s":"d1","t":140,"v":720},{"s":"d1","t":150,"v":800},{"s":"d1","t":160,"v":860},{"s":"d1","t":170,"v":905},{"s":"d1","t":180,"v":935},{"s":"d1","t":195,"v":965},{"s":"d1","t":210,"v":985},{"s":"d1","t":230,"v":997},{"s":"d1","t":255,"v":1002},{"s":"d1","t":300,"v":1000},{"s":"d1","t":400,"v":990},{"s":"d1","t":500,"v":982},{"s":"d1","t":600,"v":976},{"s":"d1","t":800,"v":970},{"s":"d1","t":1000,"v":968},
{"s":"d2","t":100,"v":300},{"s":"d2","t":110,"v":418},{"s":"d2","t":120,"v":525},{"s":"d2","t":130,"v":615},{"s":"d2","t":140,"v":690},{"s":"d2","t":150,"v":740},{"s":"d2","t":160,"v":770},{"s":"d2","t":170,"v":781},{"s":"d2","t":200,"v":781},{"s":"d2","t":300,"v":770},{"s":"d2","t":400,"v":760},{"s":"d2","t":600,"v":755},{"s":"d2","t":800,"v":752},{"s":"d2","t":1000,"v":751},
{"s":"d3","t":100,"v":300},{"s":"d3","t":110,"v":418},{"s":"d3","t":120,"v":520},{"s":"d3","t":130,"v":605},{"s":"d3","t":140,"v":662},{"s":"d3","t":150,"v":690},{"s":"d3","t":165,"v":700},{"s":"d3","t":200,"v":695},{"s":"d3","t":300,"v":678},{"s":"d3","t":400,"v":668},{"s":"d3","t":600,"v":662},{"s":"d3","t":1000,"v":658},
{"s":"d4","t":100,"v":300},{"s":"d4","t":110,"v":415},{"s":"d4","t":120,"v":510},{"s":"d4","t":130,"v":585},{"s":"d4","t":140,"v":628},{"s":"d4","t":150,"v":646},{"s":"d4","t":165,"v":650},{"s":"d4","t":200,"v":640},{"s":"d4","t":300,"v":623},{"s":"d4","t":400,"v":616},{"s":"d4","t":600,"v":613},{"s":"d4","t":1000,"v":612}
]
},
"resolve": {"scale": {"x": "independent", "y": "independent", "color": "independent"}, "legend": {"color": "independent"}},
"vconcat": [
{
 "width": 527, "height": 428,
 "layer": [
  {"data": {"name": "t_modes"}, "mark": {"type": "line", "strokeWidth": 4.5, "strokeCap": "square", "strokeJoin": "round"},
   "encoding": {
    "x": {"field": "t", "type": "quantitative", "scale": {"domain": [-50, 1050], "nice": false, "zero": false}, "axis": {"values": [0, 200, 400, 600, 800, 1000], "title": "Time (ns)", "titleY": 39.5}},
    "y": {"field": "v", "type": "quantitative", "scale": {"domain": [41, 737], "nice": false, "zero": false}, "axis": {"values": [100, 200, 300, 400, 500, 600, 700], "title": "Total Energy (K)", "titleX": -83}},
    "color": {"field": "s", "type": "nominal", "scale": {"domain": ["Mode 1", "Mode 2", "Mode 3", "Mode 4", "Mode 5", "FRE"], "range": ["#1f77b4", "#ff7f0e", "#2ca02c", "#d62728", "#9467bd", "#000000"]},
     "legend": {"orient": "none", "legendX": 351, "legendY": 216, "title": null, "symbolType": "M-2.45,0L2.45,0", "symbolSize": 400, "symbolOffset": 9, "symbolStrokeWidth": 5, "labelFontSize": 22, "labelColor": "#000000", "labelFont": "DejaVu Sans", "labelOffset": 29, "rowPadding": 8.8, "padding": 8.3, "strokeColor": "#dcdcdc", "fillColor": "#ffffff", "cornerRadius": 4}}
   }},
  {"data": {"name": "t_fre"}, "mark": {"type": "line", "strokeWidth": 6, "interpolate": "monotone", "strokeCap": "square"},
   "encoding": {"x": {"field": "t", "type": "quantitative"}, "y": {"field": "v", "type": "quantitative"}, "color": {"field": "s", "type": "nominal"}}},
  {"data": {"name": "t_dash"}, "mark": {"type": "line", "strokeWidth": 1.7, "strokeDash": [6, 3], "color": "#000000", "interpolate": "monotone"},
   "encoding": {"x": {"field": "t", "type": "quantitative"}, "y": {"field": "v", "type": "quantitative"}, "detail": {"field": "s"}}},
  {"data": {"values": [{}]}, "mark": {"type": "rule", "color": "#ec2a1e", "strokeWidth": 6},
   "encoding": {"x": {"datum": 214}, "y": {"datum": 344}, "x2": {"datum": 133}, "y2": {"datum": 311}}},
  {"data": {"values": [{}]}, "mark": {"type": "point", "shape": "M0,-1L1,0.9L-1,0.9Z", "filled": true, "size": 576, "angle": 242, "color": "#ec2a1e", "opacity": 1},
   "encoding": {"x": {"datum": 133}, "y": {"datum": 311}}},
  {"data": {"values": [{}]}, "mark": {"type": "text", "text": "source activation", "color": "#ec2a1e", "font": "Liberation Sans", "fontWeight": "bold", "fontSize": 23.5, "align": "left", "baseline": "middle"},
   "encoding": {"x": {"datum": 230}, "y": {"datum": 349}}}
 ]
},
{
 "width": 527, "height": 441,
 "layer": [
  {"data": {"name": "b_modes"}, "mark": {"type": "line", "strokeWidth": 4.5, "strokeCap": "square", "strokeJoin": "round"},
   "encoding": {
    "x": {"field": "t", "type": "quantitative", "scale": {"domain": [-50, 1050], "nice": false, "zero": false}, "axis": {"values": [0, 200, 400, 600, 800, 1000], "title": "Time (ns)", "titleY": 46}},
    "y": {"field": "v", "type": "quantitative", "scale": {"domain": [8, 2412], "nice": false, "zero": false}, "axis": {"values": [500, 1000, 1500, 2000], "title": "Total Energy (K)", "titleX": -83}},
    "color": {"field": "s", "type": "nominal", "scale": {"domain": ["Mode 1", "Mode 2", "Mode 3", "Mode 4", "Mode 5", "FRE"], "range": ["#1f77b4", "#ff7f0e", "#2ca02c", "#d62728", "#9467bd", "#000000"]}, "legend": null}
   }},
  {"data": {"name": "b_fre"}, "mark": {"type": "line", "strokeWidth": 6, "interpolate": "monotone", "strokeCap": "square"},
   "encoding": {"x": {"field": "t", "type": "quantitative"}, "y": {"field": "v", "type": "quantitative"}, "color": {"field": "s", "type": "nominal", "legend": null}}},
  {"data": {"name": "b_dash"}, "mark": {"type": "line", "strokeWidth": 1.7, "strokeDash": [6, 3], "color": "#000000", "interpolate": "monotone"},
   "encoding": {"x": {"field": "t", "type": "quantitative"}, "y": {"field": "v", "type": "quantitative"}, "detail": {"field": "s"}}},
  {"data": {"values": [{}]}, "mark": {"type": "rule", "color": "#ec2a1e", "strokeWidth": 6},
   "encoding": {"x": {"datum": 218}, "y": {"datum": 430}, "x2": {"datum": 140}, "y2": {"datum": 323}}},
  {"data": {"values": [{}]}, "mark": {"type": "point", "shape": "M0,-1L1,0.9L-1,0.9Z", "filled": true, "size": 576, "angle": 242, "color": "#ec2a1e", "opacity": 1},
   "encoding": {"x": {"datum": 140}, "y": {"datum": 323}}},
  {"data": {"values": [{}]}, "mark": {"type": "text", "text": "source activation", "color": "#ec2a1e", "font": "Liberation Sans", "fontWeight": "bold", "fontSize": 23.5, "align": "left", "baseline": "middle"},
   "encoding": {"x": {"datum": 235}, "y": {"datum": 449}}}
 ]
}
]
}
